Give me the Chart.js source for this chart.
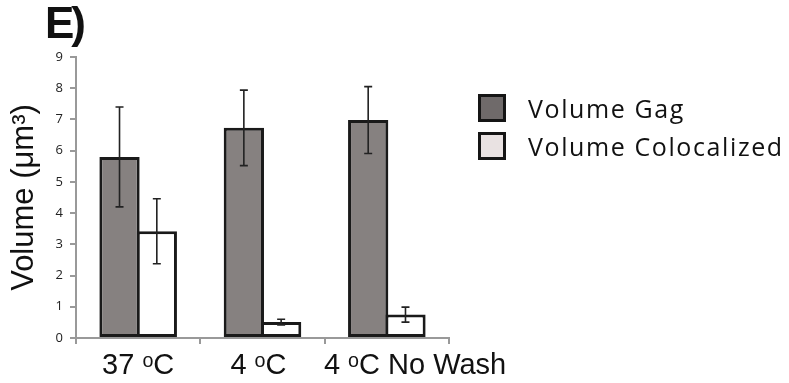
<!DOCTYPE html>
<html>
<head>
<meta charset="utf-8">
<script src="https://cdn.jsdelivr.net/npm/chart.js@4.4.1/dist/chart.umd.min.js"></script>
<style>
    html, body { margin: 0; padding: 0; background: #fff; }
    #wrap { position: relative; width: 789px; height: 383px; overflow: hidden; }
    #panel {
        position: absolute; left: 45px; top: -2px; letter-spacing: -3px;
        font: bold 44px "Liberation Sans", Arial, sans-serif; color: #111;
    }
    #legend { position: absolute; left: 478px; top: 89px; font-family: "Open Sans", sans-serif; }
    .item { display: flex; align-items: center; height: 38px; font-size: 25px; letter-spacing: 1.6px; color: #111; }
    .box { width: 22px; height: 22px; border: 3px solid #151515; margin-right: 22px; }
</style>
</head>
<body>
<div id="wrap">
    <canvas id="volumeChart" width="789" height="383"></canvas>
    <div id="panel">E)</div>
    <div id="legend"></div>
</div>
<script>
// Volume per condition
const conditions = ['37 ᵒC', '4 ᵒC', '4 ᵒC No Wash'];
const seriesNames = ['Volume Gag', 'Volume Colocalized'];
const gagVolume = [5.8, 6.73, 6.98];
const gagError = [1.6, 1.21, 1.07];
const colocVolume = [3.42, 0.51, 0.75];
const colocError = [1.04, 0.09, 0.24];
const yTicks = [0, 1, 2, 3, 4, 5, 6, 7, 8, 9];

const barFill = ['#868180', '#ffffff'];
const legendFill = ['#6f6a6a', '#e9e2e2'];

// error bars drawn through the y scale
const errorBars = {
    id: 'errorBars',
    afterDatasetsDraw(chart) {
        const ctx = chart.ctx;
        const y = chart.scales.y;
        ctx.save();
        ctx.strokeStyle = '#222';
        ctx.lineWidth = 1.6;
        chart.data.datasets.forEach((ds, i) => {
            const meta = chart.getDatasetMeta(i);
            meta.data.forEach((bar, j) => {
                const v = ds.data[j];
                const e = ds.errors[j];
                const top = y.getPixelForValue(v + e);
                const bot = y.getPixelForValue(v - e);
                const x = bar.x;
                ctx.beginPath();
                ctx.moveTo(x, top); ctx.lineTo(x, bot);
                ctx.moveTo(x - 4, top); ctx.lineTo(x + 4, top);
                ctx.moveTo(x - 4, bot); ctx.lineTo(x + 4, bot);
                ctx.stroke();
            });
        });
        ctx.restore();
    }
};

const legendEl = document.getElementById('legend');
seriesNames.forEach((name, i) => {
    const row = document.createElement('div');
    row.className = 'item';
    row.innerHTML = '<span class="box" style="background:' + legendFill[i] + '"></span>' + name;
    legendEl.appendChild(row);
});

new Chart(document.getElementById('volumeChart'), {
    type: 'bar',
    data: {
        labels: conditions,
        datasets: [
            {
                label: seriesNames[0],
                data: gagVolume,
                errors: gagError,
                backgroundColor: barFill[0],
                borderColor: '#1a1a1a',
                borderWidth: 3,
                borderSkipped: false,
                order: 0
            },
            {
                label: seriesNames[1],
                data: colocVolume,
                errors: colocError,
                backgroundColor: barFill[1],
                borderColor: '#1a1a1a',
                borderWidth: 3,
                borderSkipped: false,
                order: 1
            }
        ]
    },
    options: {
        responsive: false,
        animation: false,
        events: [],
        layout: { padding: { top: 57, right: 340, bottom: 0, left: 0 } },
        datasets: { bar: { barPercentage: 1.08, categoryPercentage: 0.6 } },
        plugins: {
            legend: { display: false },
            tooltip: { enabled: false }
        },
        scales: {
            x: {
                afterFit(scale) { scale.height = 45; },
                grid: { display: true, drawOnChartArea: false, tickLength: 6, color: '#999', lineWidth: 2 },
                border: { display: true, color: '#999', width: 2 },
                ticks: {
                    color: '#111',
                    padding: 5,
                    maxRotation: 0,
                    autoSkip: false,
                    // the original labels sit a bit off-centre
                    callback: (v, i) => {
                        const t = conditions[i];
                        if (i === 1) return t + ' ';
                        if (i === 2) return '       ' + t;
                        return t;
                    },
                    font: { family: '"Liberation Sans", "DejaVu Sans", sans-serif', size: 29 }
                }
            },
            y: {
                min: 0,
                max: 9,
                afterFit(scale) { scale.width = 76; },
                afterBuildTicks(scale) { scale.ticks = yTicks.map(v => ({ value: v })); },
                grid: { display: true, drawOnChartArea: false, tickLength: 6, color: '#999', lineWidth: 2 },
                border: { display: true, color: '#999', width: 2 },
                ticks: {
                    color: '#222',
                    padding: 7,
                    font: { family: '"Open Sans", sans-serif', size: 13 }
                },
                title: {
                    display: true,
                    text: 'Volume (μm³)',
                    color: '#111',
                    padding: { top: 6, bottom: 0 },
                    font: { family: '"Liberation Sans", Arial, sans-serif', size: 31 }
                }
            }
        }
    },
    plugins: [errorBars]
});
</script>
</body>
</html>
